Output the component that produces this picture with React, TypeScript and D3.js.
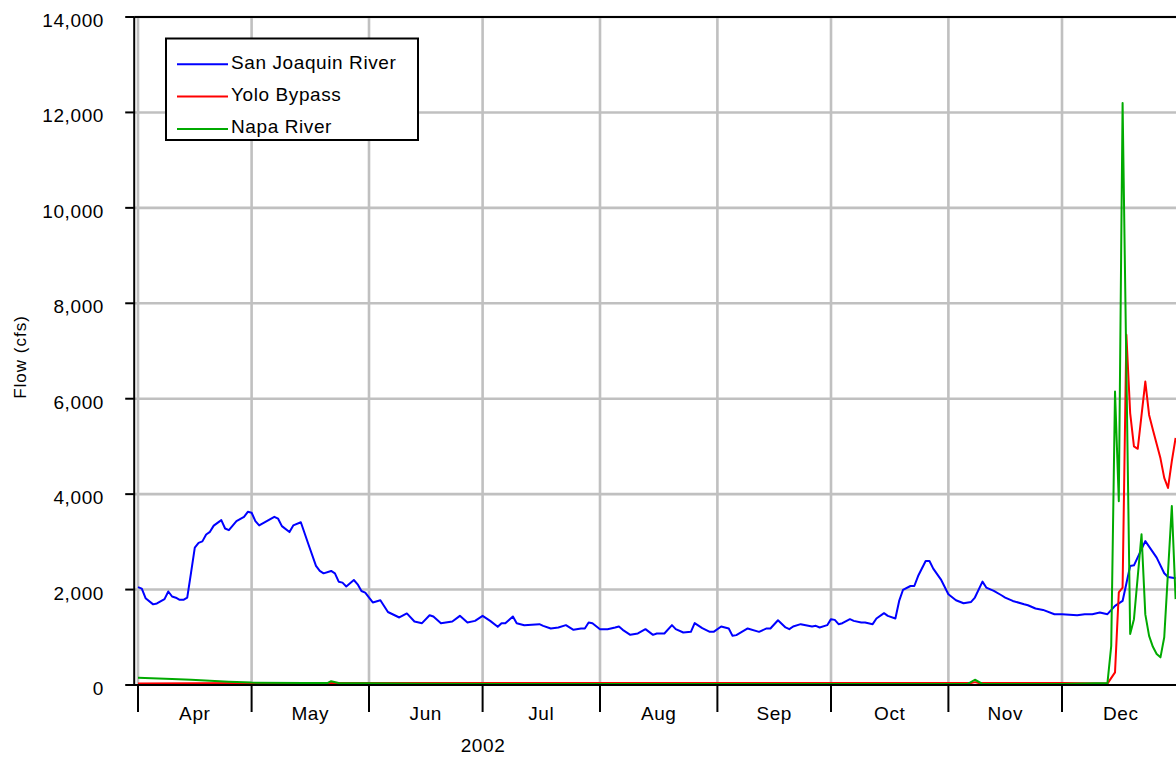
import React, { useEffect, useRef } from 'react';
import * as d3 from 'd3';

// daily flow readings, cfs
const sanJoaquin: [string, number][] = [
  ['2002-04-01', 2050], ['2002-04-02', 2020], ['2002-04-03', 1820], ['2002-04-05', 1690],
  ['2002-04-06', 1710], ['2002-04-08', 1800], ['2002-04-09', 1960], ['2002-04-10', 1855],
  ['2002-04-11', 1830], ['2002-04-12', 1785], ['2002-04-13', 1785], ['2002-04-14', 1830],
  ['2002-04-15', 2350], ['2002-04-16', 2880], ['2002-04-17', 2980], ['2002-04-18', 3010],
  ['2002-04-19', 3155], ['2002-04-20', 3210], ['2002-04-21', 3340], ['2002-04-23', 3455],
  ['2002-04-24', 3280], ['2002-04-25', 3245], ['2002-04-27', 3435], ['2002-04-29', 3525],
  ['2002-04-30', 3630], ['2002-05-01', 3610], ['2002-05-02', 3435], ['2002-05-03', 3345],
  ['2002-05-05', 3435], ['2002-05-07', 3525], ['2002-05-08', 3485], ['2002-05-09', 3330],
  ['2002-05-11', 3205], ['2002-05-12', 3345], ['2002-05-14', 3410], ['2002-05-16', 2950],
  ['2002-05-18', 2495], ['2002-05-19', 2390], ['2002-05-20', 2340], ['2002-05-22', 2390],
  ['2002-05-23', 2340], ['2002-05-24', 2165], ['2002-05-25', 2145], ['2002-05-26', 2065],
  ['2002-05-28', 2200], ['2002-05-29', 2110], ['2002-05-30', 1970], ['2002-05-31', 1935],
  ['2002-06-02', 1730], ['2002-06-04', 1775], ['2002-06-06', 1530], ['2002-06-09', 1415],
  ['2002-06-11', 1500], ['2002-06-13', 1330], ['2002-06-15', 1296], ['2002-06-17', 1463],
  ['2002-06-18', 1435], ['2002-06-20', 1296], ['2002-06-23', 1330], ['2002-06-25', 1449],
  ['2002-06-27', 1310], ['2002-06-29', 1344], ['2002-07-01', 1449], ['2002-07-03', 1344],
  ['2002-07-05', 1219], ['2002-07-06', 1296], ['2002-07-07', 1296], ['2002-07-09', 1435],
  ['2002-07-10', 1296], ['2002-07-12', 1254], ['2002-07-16', 1275], ['2002-07-17', 1240],
  ['2002-07-19', 1185], ['2002-07-21', 1206], ['2002-07-23', 1254], ['2002-07-25', 1156],
  ['2002-07-27', 1185], ['2002-07-28', 1185], ['2002-07-29', 1310], ['2002-07-30', 1296],
  ['2002-08-01', 1170], ['2002-08-03', 1170], ['2002-08-05', 1206], ['2002-08-06', 1227],
  ['2002-08-07', 1156], ['2002-08-09', 1051], ['2002-08-11', 1080], ['2002-08-13', 1170],
  ['2002-08-15', 1051], ['2002-08-16', 1080], ['2002-08-18', 1080], ['2002-08-20', 1254],
  ['2002-08-21', 1170], ['2002-08-23', 1101], ['2002-08-25', 1114], ['2002-08-26', 1296],
  ['2002-08-28', 1191], ['2002-08-30', 1114], ['2002-08-31', 1114], ['2002-09-02', 1227],
  ['2002-09-04', 1185], ['2002-09-05', 1030], ['2002-09-06', 1045], ['2002-09-09', 1185],
  ['2002-09-12', 1114], ['2002-09-14', 1185], ['2002-09-15', 1185], ['2002-09-17', 1358],
  ['2002-09-19', 1206], ['2002-09-20', 1170], ['2002-09-21', 1227], ['2002-09-23', 1275],
  ['2002-09-26', 1227], ['2002-09-27', 1240], ['2002-09-28', 1206], ['2002-09-30', 1254],
  ['2002-10-01', 1380], ['2002-10-02', 1365], ['2002-10-03', 1275], ['2002-10-04', 1296],
  ['2002-10-06', 1380], ['2002-10-07', 1344], ['2002-10-09', 1310], ['2002-10-10', 1310],
  ['2002-10-12', 1275], ['2002-10-13', 1394], ['2002-10-15', 1505], ['2002-10-16', 1449],
  ['2002-10-18', 1394], ['2002-10-19', 1762], ['2002-10-20', 1992], ['2002-10-22', 2075],
  ['2002-10-23', 2075], ['2002-10-24', 2284], ['2002-10-26', 2598], ['2002-10-27', 2598],
  ['2002-10-28', 2439], ['2002-10-30', 2215], ['2002-11-01', 1902], ['2002-11-03', 1777],
  ['2002-11-05', 1714], ['2002-11-07', 1741], ['2002-11-08', 1833], ['2002-11-10', 2167],
  ['2002-11-11', 2042], ['2002-11-13', 1971], ['2002-11-15', 1881], ['2002-11-16', 1833],
  ['2002-11-18', 1762], ['2002-11-21', 1693], ['2002-11-22', 1672], ['2002-11-24', 1603],
  ['2002-11-26', 1574], ['2002-11-29', 1484], ['2002-12-01', 1484], ['2002-12-05', 1463],
  ['2002-12-07', 1484], ['2002-12-09', 1484], ['2002-12-11', 1519], ['2002-12-13', 1484],
  ['2002-12-15', 1658], ['2002-12-17', 1762], ['2002-12-19', 2494], ['2002-12-20', 2508],
  ['2002-12-23', 3016], ['2002-12-26', 2669], ['2002-12-28', 2341], ['2002-12-29', 2264],
  ['2002-12-31', 2236],
];

const yoloBypass: [string, number][] = [
  ['2002-04-01', 30], ['2002-05-01', 40], ['2002-06-01', 40], ['2002-07-01', 40],
  ['2002-08-01', 40], ['2002-09-01', 40], ['2002-10-01', 40], ['2002-11-01', 40],
  ['2002-11-07', 40], ['2002-11-08', 60], ['2002-11-09', 40], ['2002-12-01', 40],
  ['2002-12-13', 30], ['2002-12-15', 265], ['2002-12-16', 1940], ['2002-12-17', 2040],
  ['2002-12-18', 7340], ['2002-12-19', 5700], ['2002-12-20', 5000], ['2002-12-21', 4950],
  ['2002-12-23', 6360], ['2002-12-24', 5660], ['2002-12-25', 5350], ['2002-12-26', 5050],
  ['2002-12-27', 4750], ['2002-12-28', 4340], ['2002-12-29', 4130], ['2002-12-30', 4690],
  ['2002-12-31', 5180],
];

const napaRiver: [string, number][] = [
  ['2002-04-01', 150], ['2002-04-10', 125], ['2002-04-15', 110], ['2002-04-20', 90],
  ['2002-04-25', 70], ['2002-05-01', 50], ['2002-05-15', 40], ['2002-05-21', 40],
  ['2002-05-22', 80], ['2002-05-24', 40], ['2002-06-15', 25], ['2002-07-15', 20],
  ['2002-08-15', 20], ['2002-09-15', 20], ['2002-10-15', 20], ['2002-11-06', 20],
  ['2002-11-08', 110], ['2002-11-10', 25], ['2002-12-01', 20], ['2002-12-13', 40],
  ['2002-12-14', 820], ['2002-12-15', 6150], ['2002-12-16', 3850], ['2002-12-17', 12200],
  ['2002-12-19', 1070], ['2002-12-20', 1380], ['2002-12-22', 3160], ['2002-12-23', 1480],
  ['2002-12-24', 1030], ['2002-12-25', 800], ['2002-12-26', 650], ['2002-12-27', 580],
  ['2002-12-28', 1000], ['2002-12-30', 3750], ['2002-12-31', 1800],
];

const seriesNames = ['San Joaquin River', 'Yolo Bypass', 'Napa River'];
const seriesColors = ['#0000ff', '#ff0000', '#00aa00'];
const yTicks = [0, 2000, 4000, 6000, 8000, 10000, 12000, 14000];
const monthLabels = ['Apr', 'May', 'Jun', 'Jul', 'Aug', 'Sep', 'Oct', 'Nov', 'Dec'];
const yearLabel = '2002';

const App = () => {
  const ref = useRef<SVGSVGElement>(null);

  useEffect(() => {
    const W = 1176;
    const font = '"Liberation Sans", Arial, sans-serif';
    const parse = d3.timeParse('%Y-%m-%d');

    const svg = d3.select(ref.current);
    svg.selectAll('*').remove();

    const x = d3
      .scaleTime()
      .domain([new Date(2002, 3, 1), new Date(2002, 11, 1)])
      .range([138, 1062]);
    const y = d3.scaleLinear().domain([0, 14000]).range([685, 17]);

    const left = x(new Date(2002, 2, 31));
    const right = W;
    const months = d3.timeMonth.range(new Date(2002, 3, 1), new Date(2002, 11, 2));

    // grid
    const grid = svg.append('g').attr('stroke', '#c0c0c0').attr('stroke-width', 2.6);
    grid
      .selectAll('line.h')
      .data(yTicks.slice(1))
      .enter()
      .append('line')
      .attr('x1', left)
      .attr('x2', right)
      .attr('y1', (d) => y(d))
      .attr('y2', (d) => y(d));
    grid
      .selectAll('line.v')
      .data(months)
      .enter()
      .append('line')
      .attr('x1', (d) => x(d))
      .attr('x2', (d) => x(d))
      .attr('y1', y(14000))
      .attr('y2', y(0));

    // series
    const line = d3
      .line<[string, number]>()
      .x((d) => x(parse(d[0]) as Date))
      .y((d) => y(d[1]));
    [sanJoaquin, yoloBypass, napaRiver].forEach((s, i) => {
      svg
        .append('path')
        .datum(s)
        .attr('d', line)
        .attr('fill', 'none')
        .attr('stroke', seriesColors[i])
        .attr('stroke-width', 2)
        .attr('stroke-linejoin', 'round');
    });

    // frame
    const axis = svg.append('g').attr('stroke', '#000').attr('stroke-width', 2);
    axis.append('line').attr('x1', left).attr('x2', left).attr('y1', y(14000)).attr('y2', y(0) + 1);
    axis.append('line').attr('x1', left).attr('x2', right).attr('y1', y(14000)).attr('y2', y(14000));
    axis.append('line').attr('x1', left - 1).attr('x2', right).attr('y1', y(0)).attr('y2', y(0));
    axis
      .selectAll('line.yt')
      .data(yTicks)
      .enter()
      .append('line')
      .attr('x1', left - 9)
      .attr('x2', left)
      .attr('y1', (d) => y(d))
      .attr('y2', (d) => y(d));
    axis
      .selectAll('line.xt')
      .data(months)
      .enter()
      .append('line')
      .attr('x1', (d) => x(d))
      .attr('x2', (d) => x(d))
      .attr('y1', y(0))
      .attr('y2', 712);

    const txt = svg
      .append('g')
      .attr('font-family', font)
      .attr('font-size', 19)
      .attr('letter-spacing', 0.6)
      .attr('fill', '#000');

    txt
      .selectAll('text.yl')
      .data(yTicks)
      .enter()
      .append('text')
      .attr('x', 104)
      .attr('y', (d) => y(d) + 10)
      .attr('text-anchor', 'end')
      .text((d) => d3.format(',')(d));

    txt
      .selectAll('text.xl')
      .data(months)
      .enter()
      .append('text')
      .attr('x', (d) => (x(d) + x(d3.timeMonth.offset(d, 1))) / 2)
      .attr('y', 720)
      .attr('text-anchor', 'middle')
      .text((d, i) => monthLabels[i]);

    txt.append('text').attr('x', 483).attr('y', 752).attr('text-anchor', 'middle').text(yearLabel);

    txt
      .append('text')
      .attr('transform', `translate(26,357) rotate(-90)`)
      .attr('text-anchor', 'middle')
      .attr('font-size', 17)
      .attr('letter-spacing', 1)
      .text('Flow (cfs)');

    // legend
    const lg = svg.append('g');
    lg.append('rect')
      .attr('x', 166)
      .attr('y', 38.5)
      .attr('width', 252)
      .attr('height', 101.5)
      .attr('fill', '#fff')
      .attr('stroke', '#000')
      .attr('stroke-width', 2);
    seriesNames.forEach((name, i) => {
      const ly = 64.3 + i * 32.3;
      lg.append('line')
        .attr('x1', 177)
        .attr('x2', 228)
        .attr('y1', ly)
        .attr('y2', ly)
        .attr('stroke', seriesColors[i])
        .attr('stroke-width', 2);
      lg.append('text')
        .attr('x', 231)
        .attr('y', ly + 4.5)
        .attr('font-family', font)
        .attr('font-size', 19)
        .attr('letter-spacing', 0.6)
        .text(name);
    });
  }, []);

  return (
    <svg
      ref={ref}
      width={1176}
      height={758}
      style={{ position: 'absolute', left: 0, top: 0, background: '#fff' }}
    />
  );
};

export default App;
